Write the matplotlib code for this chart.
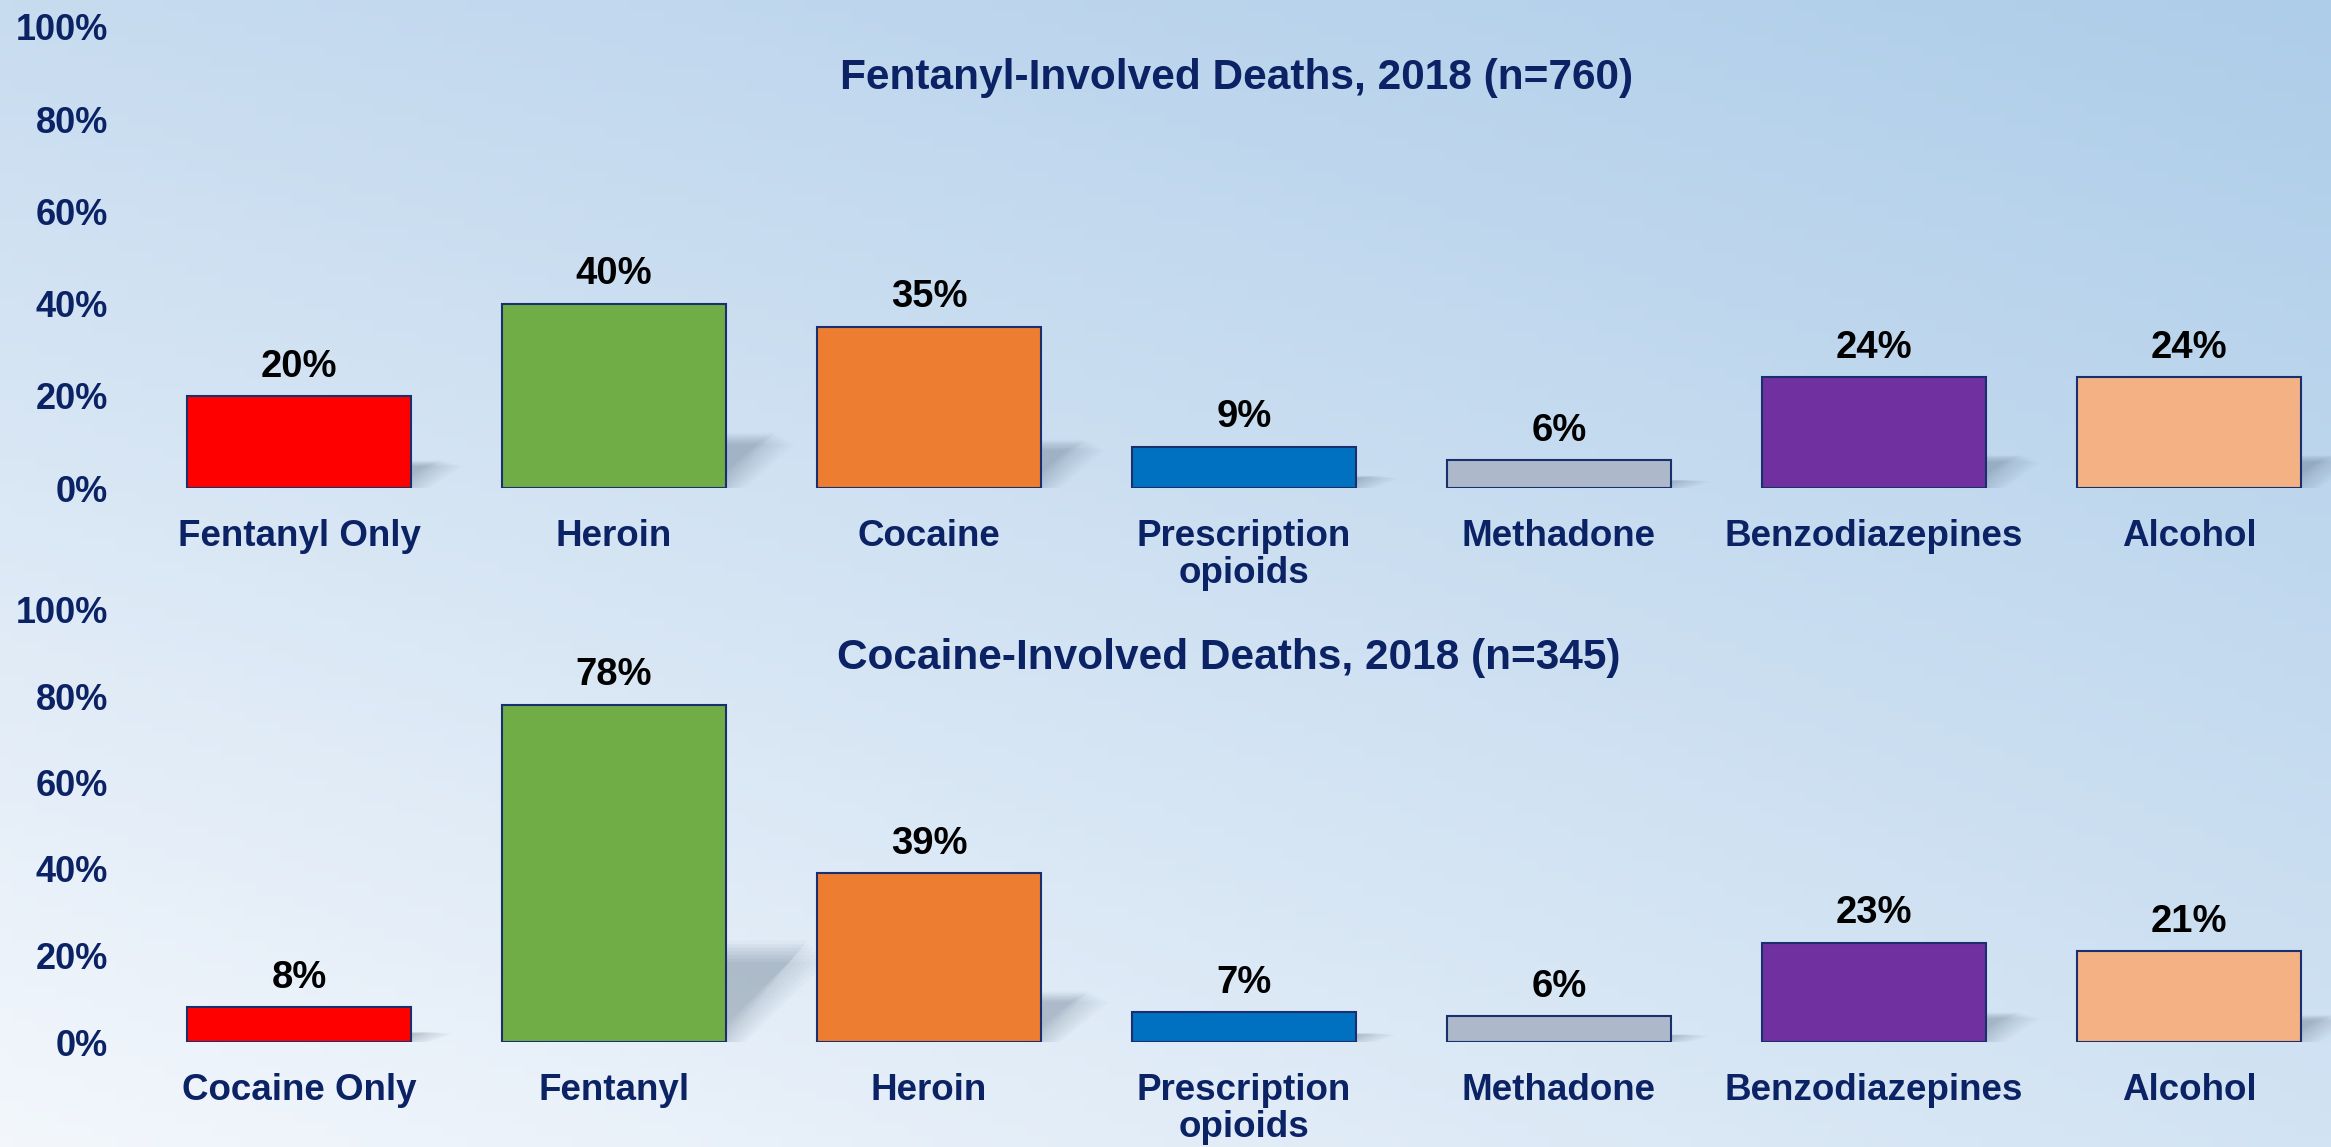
import numpy as np
import matplotlib.pyplot as plt
from matplotlib.patches import Polygon
from matplotlib.colors import to_rgb

plt.rcParams['font.family'] = ['Liberation Sans', 'DejaVu Sans']
plt.rcParams['font.weight'] = 'bold'

# data
fent_title = "Fentanyl-Involved Deaths, 2018 (n=760)"
fent_labels = ["Fentanyl Only", "Heroin", "Cocaine", "Prescription\nopioids",
               "Methadone", "Benzodiazepines", "Alcohol"]
fent_values = [20, 40, 35, 9, 6, 24, 24]

coc_title = "Cocaine-Involved Deaths, 2018 (n=345)"
coc_labels = ["Cocaine Only", "Fentanyl", "Heroin", "Prescription\nopioids",
              "Methadone", "Benzodiazepines", "Alcohol"]
coc_values = [8, 78, 39, 7, 6, 23, 21]

bar_colors = ["#FF0000", "#70AD47", "#ED7D31", "#0070C0",
              "#ADB9CA", "#7030A0", "#F4B183"]
navy = "#0B2265"

W, H = 2331, 1147
fig = plt.figure(figsize=(W / 100, H / 100), dpi=100)

# background gradient
bg = fig.add_axes([0, 0, 1, 1], zorder=-10)
tl, tr = np.array(to_rgb("#c8dcf0")), np.array(to_rgb("#aecde9"))
bl, br = np.array(to_rgb("#f3f7fc")), np.array(to_rgb("#d2e3f3"))
u = np.linspace(0, 1, 200)[None, :, None]
v = np.linspace(0, 1, 100)[:, None, None]
img = (1 - v) * ((1 - u) * tl + u * tr) + v * ((1 - u) * bl + u * br)
bg.imshow(img, aspect='auto', extent=[0, 1, 0, 1], origin='upper')
bg.axis('off')

left = 141.5 / W
xmax = -0.5 + (W - 141.5) / 315


def draw_panel(rect, labels, values, title, title_xy):
    ax = fig.add_axes(rect)
    ax.patch.set_alpha(0)
    x = np.arange(len(values))
    # soft shadows behind the bars (stacked shifted copies as a blur)
    for xi, val in zip(x, values):
        h = 0.3 * val
        dx = 0.05 + 0.0027 * val
        for k in range(-6, 7):
            sx = 0.01 * k
            sh = h * (1 - 0.035 * abs(k))
            pts = [(xi - 0.3, 0), (xi + 0.355 + sx, 0),
                   (xi + 0.355 + dx + sx, sh), (xi - 0.3 + dx, sh)]
            ax.add_patch(Polygon(pts, closed=True, facecolor="#56697f",
                                 edgecolor='none', alpha=0.032, zorder=1))
    bars = ax.bar(x, values, width=0.71, color=bar_colors,
                  edgecolor="#1a2f6e", linewidth=1.5, zorder=3)
    for b, val in zip(bars, values):
        ax.annotate(f"{val}%", (b.get_x() + b.get_width() / 2, val),
                    xytext=(0, 21), textcoords='offset points',
                    ha='center', va='center', fontsize=27.5,
                    fontweight='bold', color='black')
    ax.set_xlim(-0.5, xmax)
    ax.set_ylim(0, 100)
    ax.set_yticks(range(0, 101, 20))
    ax.set_yticklabels([f"{t}%" for t in range(0, 101, 20)])
    ax.set_xticks(x)
    ax.set_xticklabels(labels, linespacing=1.1)
    ax.tick_params(axis='y', length=0, pad=24, labelsize=26, labelcolor=navy)
    ax.tick_params(axis='x', length=0, pad=22, labelsize=26.5, labelcolor=navy)
    for sp in ax.spines.values():
        sp.set_visible(False)
    fig.text(title_xy[0] / W, 1 - title_xy[1] / H, title, ha='center',
             va='center', fontsize=30.5, fontweight='bold', color=navy)
    return ax


draw_panel([left, 1 - 488 / H, 1 - left, (488 - 27) / H],
           fent_labels, fent_values, fent_title, (1237, 78))
draw_panel([left, 1 - 1042 / H, 1 - left, (1042 - 609.5) / H],
           coc_labels, coc_values, coc_title, (1229, 658))

fig.savefig("out.png", dpi=100)
